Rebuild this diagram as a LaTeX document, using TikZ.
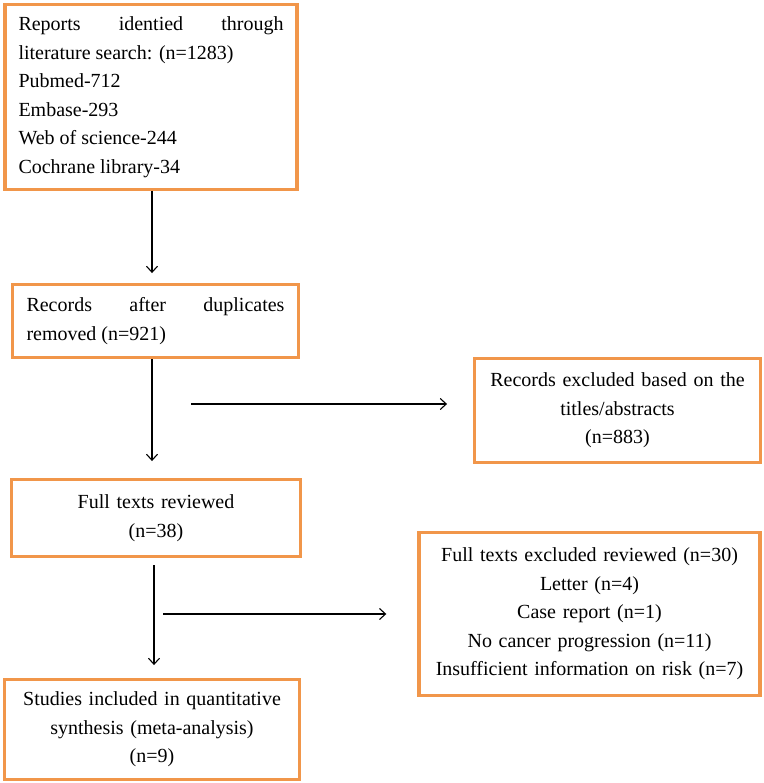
\documentclass[tikz,border=0pt]{standalone}
\usepackage{fontspec}
\setmainfont{Liberation Serif}
\usetikzlibrary{arrows.meta,calc}
\definecolor{boxorange}{RGB}{241,150,74}
\tikzset{% boxes and arrows of the flow chart
	flowbox/.style={draw=boxorange,line width=3.4pt,inner sep=0pt,
		font=\fontsize{20}{28.5}\selectfont},
	flowarrow/.style={-{Straight Barb[length=6pt,width=11pt]},line width=1.1pt}
}

\begin{document}
\begin{tikzpicture}[x=1pt,y=-1pt]
\useasboundingbox (0,0) rectangle (763,783);
\node[flowbox,text width=265pt,align=justify,minimum width=292pt,minimum height=184.5pt] (rep) at (151,97)
	{Reports identied through\linebreak literature search: (n=1283)\\ Pubmed-712\\ Embase-293\\ Web of science-244\\ Cochrane library-34};
\node[flowbox,text width=258pt,align=justify,minimum width=285.5pt,minimum height=72.5pt] (dup) at (155.5,321)
	{Records after duplicates\linebreak removed (n=921)};
\node[flowbox,text width=270pt,align=center,minimum width=285.5pt,minimum height=103.5pt] (exclA) at (617.5,410.5)
	{Records excluded based on the\\ titles/abstracts\\ (n=883)};
\node[flowbox,text width=270pt,align=center,minimum width=288.5pt,minimum height=76.5pt] (full) at (156,518)
	{Full texts reviewed\\ (n=38)};
\node[flowbox,text width=330pt,align=center,minimum width=341pt,minimum height=162.5pt] (exclB) at (589.5,614)
	{Full texts excluded reviewed (n=30)\\ Letter (n=4)\\ Case report (n=1)\\ No cancer progression (n=11)\\ Insufficient information on risk (n=7)};
\node[flowbox,text width=285pt,align=center,minimum width=295pt,minimum height=99.5pt] (incl) at (152,729.5)
	{Studies included in quantitative\\ synthesis (meta-analysis)\\ (n=9)};

\coordinate (splitA) at (191,404);
\coordinate (splitB) at (163,614);
\coordinate (downA) at (152,191);
\coordinate (downB) at (152,359);
\coordinate (downC) at (154,565);

\draw[flowarrow,shorten >=10pt] (downA) -- (downA |- dup.north);
\draw[flowarrow,shorten >=17pt] (downB) -- (downB |- full.north);
\draw[flowarrow,shorten >=13pt] (downC) -- (downC |- incl.north);
\draw[flowarrow,shorten >=26pt] (splitA) -- (splitA -| exclA.west);
\draw[flowarrow,shorten >=31pt] (splitB) -- (splitB -| exclB.west);
\end{tikzpicture}
\end{document}
